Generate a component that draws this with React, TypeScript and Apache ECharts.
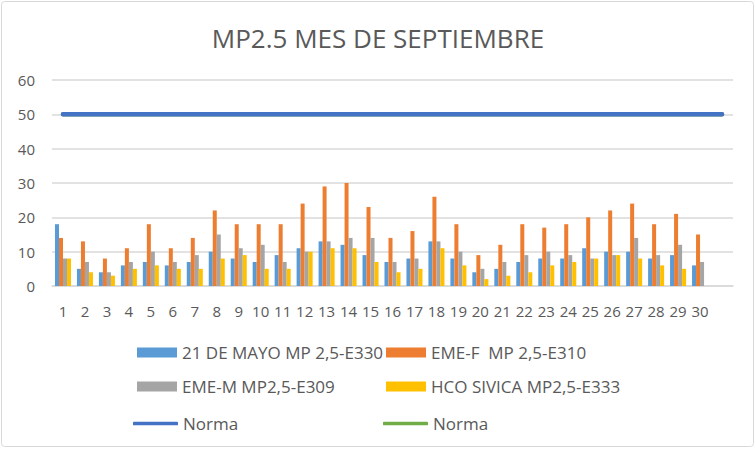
import React, { useEffect, useRef } from "react";
import * as echarts from "echarts";

const days = ["1","2","3","4","5","6","7","8","9","10","11","12","13","14","15","16","17","18","19","20","21","22","23","24","25","26","27","28","29","30",""];
const mayo21 = [18,5,4,6,7,6,7,10,8,7,9,11,13,12,9,7,8,13,8,4,5,7,8,8,11,10,10,8,9,6];
const emeF = [14,13,8,11,18,11,14,22,18,18,18,24,29,30,23,14,16,26,18,9,12,18,17,18,20,22,24,18,21,15];
const emeM = [8,7,4,7,10,7,9,15,11,12,7,10,13,14,14,7,8,13,10,5,7,9,10,9,8,9,14,9,12,7];
const hcoSivica = [8,4,3,5,6,5,5,8,9,5,5,10,11,11,7,4,5,11,6,2,3,4,6,7,8,9,8,6,5,null];
const norma = [50,50,50,50,50,50,50,50,50,50,50,50,50,50,50,50,50,50,50,50,50,50,50,50,50,50,50,50,50,50,50];
const yTicks = { min: 0, max: 60, interval: 10 };

const FONT = "Open Sans";
const TXT = "#595959";

export default function App() {
  const ref = useRef<HTMLDivElement>(null);
  useEffect(() => {
    if (!ref.current) return;
    const chart = echarts.init(ref.current, undefined, { renderer: "svg" });
    const legendBase = (name: string, left: number, top: number, isLine: boolean) => ({
      data: [name],
      left,
      top,
      padding: 0,
      orient: "horizontal",
      itemWidth: isLine ? 45 : 40,
      itemHeight: isLine ? 3.5 : 10,
      itemGap: 0,
      selectedMode: false,
      icon: isLine ? "roundRect" : "rect",
      formatter: (n: string) => n.trim(),
      textStyle: { fontFamily: FONT, fontSize: 17, color: TXT },
    });
    chart.setOption({
      animation: false,
      backgroundColor: "#ffffff",
      title: {
        text: "MP2.5 MES DE SEPTIEMBRE",
        left: "center",
        top: 20,
        textStyle: { fontFamily: FONT, fontSize: 26, fontWeight: "normal", color: TXT },
      },
      graphic: [
        {
          type: "rect",
          shape: { x: 1.5, y: 1.5, width: 752, height: 445, r: 3 },
          style: { fill: "none", stroke: "#D9D9D9", lineWidth: 1 },
          silent: true,
        },
      ],
      legend: [
        legendBase("21 DE MAYO MP 2,5-E330", 137, 344, false),
        legendBase("EME-F  MP 2,5-E310", 386, 344, false),
        legendBase("EME-M MP2,5-E309", 137, 378, false),
        legendBase("HCO SIVICA MP2,5-E333", 386, 378, false),
        legendBase("Norma", 133, 415, true),
        legendBase("Norma ", 383, 415, true),
      ],
      grid: { left: 52, right: 23, top: 80, bottom: 164, containLabel: false },
      xAxis: {
        type: "category",
        data: days,
        axisLine: { lineStyle: { color: "#D9D9D9", width: 1.5 } },
        axisTick: { show: false },
        axisLabel: { interval: 0, fontFamily: FONT, fontSize: 15, color: TXT, margin: 17 },
      },
      yAxis: {
        type: "value",
        min: yTicks.min,
        max: yTicks.max,
        interval: yTicks.interval,
        axisLine: { show: false },
        axisTick: { show: false },
        splitLine: { lineStyle: { color: "#D9D9D9", width: 1.5 } },
        axisLabel: { fontFamily: FONT, fontSize: 15, color: TXT, margin: 17 },
      },
      series: [
        { name: "21 DE MAYO MP 2,5-E330", type: "bar", data: mayo21, itemStyle: { color: "#5B9BD5" }, barGap: "0%", barCategoryGap: "27%" },
        { name: "EME-F  MP 2,5-E310", type: "bar", data: emeF, itemStyle: { color: "#ED7D31" }, barGap: "0%", barCategoryGap: "27%" },
        { name: "EME-M MP2,5-E309", type: "bar", data: emeM, itemStyle: { color: "#A5A5A5" }, barGap: "0%", barCategoryGap: "27%" },
        { name: "HCO SIVICA MP2,5-E333", type: "bar", data: hcoSivica, itemStyle: { color: "#FFC000" }, barGap: "0%", barCategoryGap: "27%" },
        { name: "Norma ", type: "line", data: norma, symbol: "none", lineStyle: { color: "#70AD47", width: 4.5, cap: "round" }, itemStyle: { color: "#70AD47" } },
        { name: "Norma", type: "line", data: norma, symbol: "none", lineStyle: { color: "#4472C4", width: 4.5, cap: "round" }, itemStyle: { color: "#4472C4" } },
      ],
    });
    return () => chart.dispose();
  }, []);
  return <div ref={ref} style={{ position: "fixed", left: 0, top: 0, width: 756, height: 450 }} />;
}
